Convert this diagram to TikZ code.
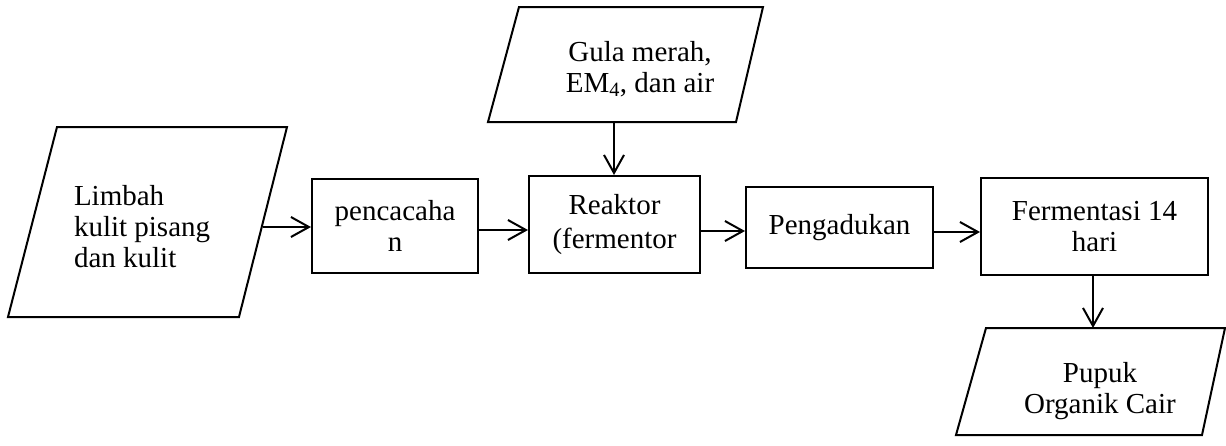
\documentclass[tikz,border=0pt]{standalone}
\usepackage{fontspec}
\setmainfont{Liberation Serif}
\usetikzlibrary{arrows.meta}
\begin{document}
\begin{tikzpicture}[x=1pt,y=-1pt,
  line width=2pt,
  lbl/.style={inner sep=0pt, align=center, font=\fontsize{29}{31}\selectfont},
  box/.style={lbl, draw, line width=2pt},
  para/.style={draw, line width=2pt, line join=miter},
  arr/.style={draw, line width=2pt, -{Straight Barb[length=18pt,width=20pt,line width=2pt]}}]
\useasboundingbox (0,0) rectangle (1226,445);

% input parallelograms
\draw[para] (57,127) -- (287,127) -- (239,317) -- (8,317) -- cycle;
\node[lbl, align=left, anchor=west] (limbah) at (73,226.5) {Limbah\\kulit pisang\\dan kulit};
\coordinate (limbahR) at (263,227);

\draw[para] (519,7) -- (763,7) -- (736,122) -- (488,122) -- cycle;
\node[lbl] (gula) at (640,69) {Gula merah,\\EM\textsubscript{4}, dan air};
\coordinate (gulaB) at (614,122);

\draw[para] (986,328) -- (1225,328) -- (1202,435) -- (956,435) -- cycle;
\node[lbl] (pupuk) at (1100,391) {Pupuk\\Organik Cair};

% process boxes
\node[box, minimum width=166pt, minimum height=94pt] (pencacahan) at (395,226) {pencacaha\\n};
\node[box, minimum width=171pt, minimum height=97pt, font=\fontsize{29}{34}\selectfont] (reaktor) at (614.5,224.5) {Reaktor\\(fermentor};
\node[box, minimum width=187pt, minimum height=81pt] (pengadukan) at (839.5,227.5) {Pengadukan};
\node[box, minimum width=227pt, minimum height=97pt] (fermentasi) at (1094.5,226.5) {Fermentasi 14\\hari};
\coordinate (pupukT) at (1093,328);

% connectors
\draw[arr] (limbahR) -- (limbahR -| pencacahan.west);
\draw[arr] ([yshift=-4pt]pencacahan.east) -- ([yshift=-4pt]pencacahan.east -| reaktor.west);
\draw[arr] ([yshift=-6.5pt]reaktor.east) -- ([yshift=-6.5pt]reaktor.east -| pengadukan.west);
\draw[arr] ([yshift=-4.5pt]pengadukan.east) -- ([yshift=-4.5pt]pengadukan.east -| fermentasi.west);
\draw[arr] (gulaB) -- (gulaB |- reaktor.north);
\draw[arr] (fermentasi.south -| pupukT) -- (pupukT);
\end{tikzpicture}
\end{document}
